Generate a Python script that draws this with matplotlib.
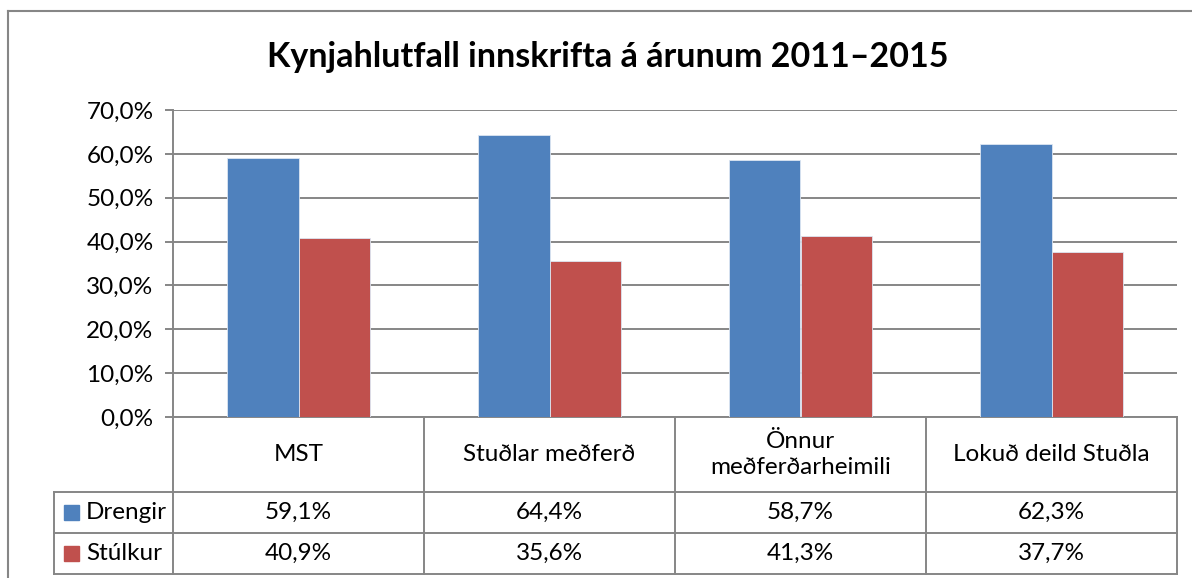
import matplotlib
matplotlib.use('Agg')
import matplotlib.pyplot as plt
import matplotlib.transforms as transforms
from matplotlib.lines import Line2D
from matplotlib.patches import Rectangle
from matplotlib.ticker import FuncFormatter, MultipleLocator
import numpy as np

# Data
title = 'Kynjahlutfall innskrifta á árunum 2011–2015'
categories = ['MST', 'Stuðlar meðferð', 'Önnur\nmeðferðarheimili', 'Lokuð deild Stuðla']
series_names = ['Drengir', 'Stúlkur']
drengir = [59.1, 64.4, 58.7, 62.3]
stulkur = [40.9, 35.6, 41.3, 37.7]
series_values = [drengir, stulkur]
series_colors = ['#4F81BD', '#C0504D']

plt.rcParams['font.family'] = ['Lato', 'DejaVu Sans']

W, H = 1192, 578
fig = plt.figure(figsize=(W / 100, H / 100), dpi=100)

# pixel helpers (top-left origin)
def fx(px):
    return px / W

def fy(py):
    return 1 - py / H

ax_l, ax_r, ax_t, ax_b = 173, 1177, 110, 417
ax = fig.add_axes([fx(ax_l), fy(ax_b), (ax_r - ax_l) / W, (ax_b - ax_t) / H])

grid_c = '#868686'
lab_fs = 17.5

# Outer chart border: only left and top edges are in view
fig.add_artist(Line2D([fx(8), fx(8)], [fy(11), 0], transform=fig.transFigure,
                      color=grid_c, lw=1.5))
fig.add_artist(Line2D([fx(8), 1], [fy(11), fy(11)], transform=fig.transFigure,
                      color=grid_c, lw=1.5))

# Bars
x = np.arange(len(categories))
bar_w = 0.285
for i, (name, vals, col) in enumerate(zip(series_names, series_values, series_colors)):
    offs = (i - 0.5) * bar_w
    ax.bar(x + offs, vals, width=bar_w, color=col, edgecolor='#dce6f2',
           linewidth=0.6, zorder=3)

ax.set_xlim(-0.5, len(categories) - 0.5)
ax.set_ylim(0, 70)
ax.yaxis.set_major_locator(MultipleLocator(10))
ax.yaxis.set_major_formatter(FuncFormatter(lambda v, p: f'{v:.1f}%'.replace('.', ',')))
ax.grid(axis='y', color=grid_c, lw=1.4, zorder=0)
ax.set_axisbelow(True)
ax.set_xticks([])
ax.tick_params(axis='y', length=6, width=1.4, color=grid_c, pad=8,
               labelsize=lab_fs, labelcolor='black')
for s in ['top', 'right']:
    ax.spines[s].set_visible(False)
ax.spines['left'].set_color(grid_c)
ax.spines['left'].set_linewidth(1.4)
ax.spines['bottom'].set_color(grid_c)
ax.spines['bottom'].set_linewidth(1.4)

# Data table below the axis
trans = transforms.blended_transform_factory(ax.transData, ax.transAxes)
ah = ax_b - ax_t
aw = ax_r - ax_l

def ry(py):
    return (ax_b - py) / ah

row_cat, row_d, row_s = 492, 533, 574
leg_left = (54 - ax_l) / aw

def hline(py, x0_axes):
    ax.add_line(Line2D([x0_axes, 1], [ry(py), ry(py)], transform=ax.transAxes,
                       color=grid_c, lw=1.4, clip_on=False))

hline(row_cat, leg_left)
hline(row_d, leg_left)
hline(row_s, leg_left)

for b in np.arange(len(categories) + 1) - 0.5:
    ax.add_line(Line2D([b, b], [0, ry(row_s)], transform=trans,
                       color=grid_c, lw=1.4, clip_on=False))
ax.add_line(Line2D([leg_left, leg_left], [ry(row_cat), ry(row_s)],
                   transform=ax.transAxes, color=grid_c, lw=1.4, clip_on=False))

# category labels
for xi, cat in zip(x, categories):
    ax.text(xi, ry((ax_b + row_cat) / 2), cat, transform=trans, ha='center',
            va='center', fontsize=lab_fs, linespacing=1.3)

# value rows with legend keys
for py0, py1, name, vals, col in zip([row_cat, row_d], [row_d, row_s],
                                     series_names, series_values, series_colors):
    yc = ry((py0 + py1) / 2)
    for xi, v in zip(x, vals):
        ax.text(xi, yc, f'{v:.1f}%'.replace('.', ','), transform=trans,
                ha='center', va='center', fontsize=lab_fs)
    key_l = (64 - ax_l) / aw
    key_s = 15
    ax.add_patch(Rectangle((key_l, yc - key_s / 2 / ah), key_s / aw, key_s / ah,
                           transform=ax.transAxes, color=col, clip_on=False))
    ax.text((86 - ax_l) / aw, yc, name, transform=ax.transAxes, ha='left',
            va='center', fontsize=lab_fs)

fig.text(fx(608), fy(57), title, ha='center', va='center', fontsize=24.5,
         fontweight='bold')

fig.savefig('out.png', dpi=100)
